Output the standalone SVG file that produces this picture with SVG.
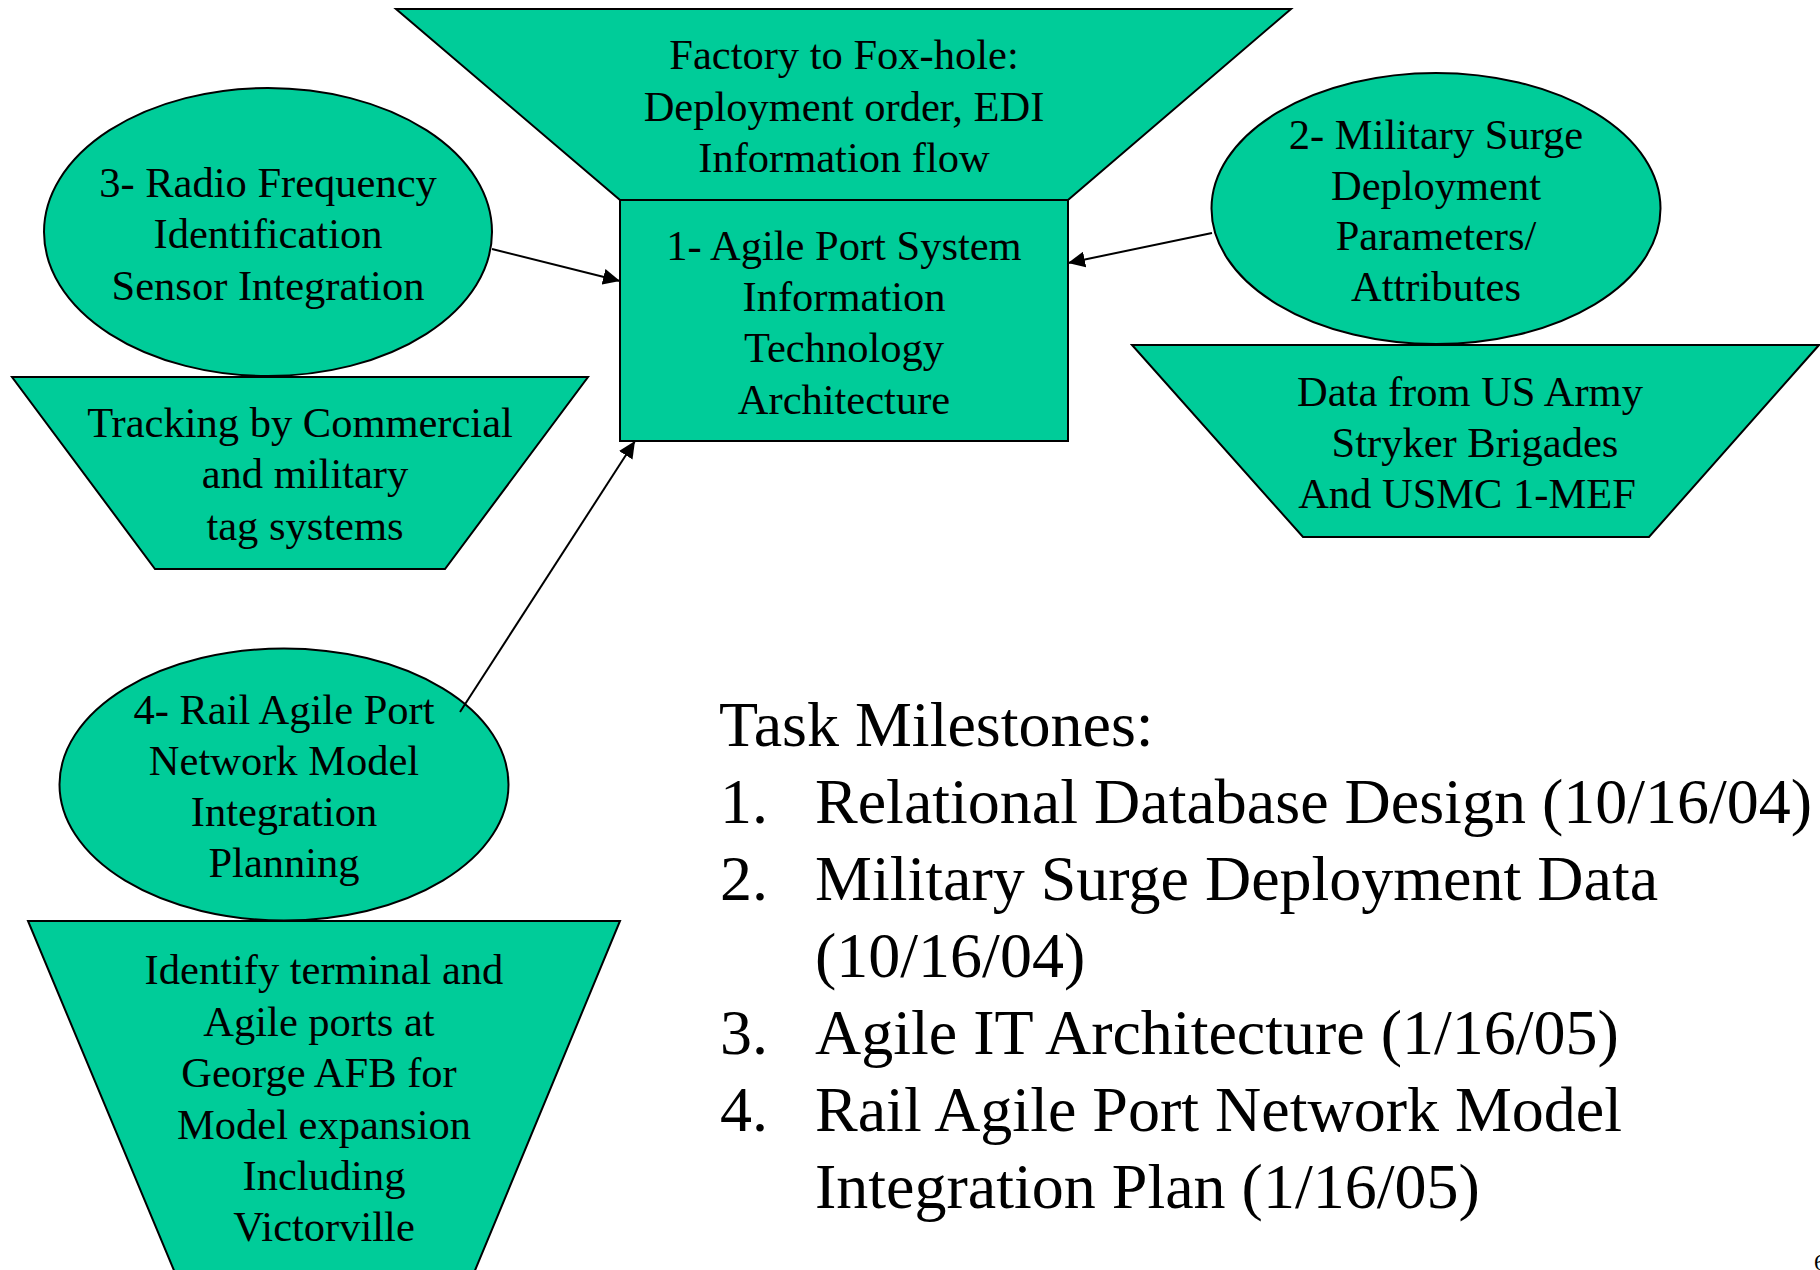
<svg xmlns="http://www.w3.org/2000/svg" width="1820" height="1270" viewBox="0 0 1820 1270">
<style>
.shape{fill:#00CC99;stroke:#000;stroke-width:2}
.t{font-family:"Liberation Serif","Times New Roman",serif;font-size:42.5px;fill:#000;text-anchor:middle}
.m{font-family:"Liberation Serif","Times New Roman",serif;font-size:64px;fill:#000}
.conn{stroke:#000;stroke-width:2;fill:none;marker-end:url(#ah)}
</style>
<defs>
<marker id="ah" markerUnits="userSpaceOnUse" markerWidth="18" markerHeight="16" refX="17" refY="8" orient="auto">
<path d="M0,0 L17,8 L0,16 Z" fill="#000"/>
</marker>
</defs>
<rect width="1820" height="1270" fill="#fff"/>
<g id="factory">
<polygon class="shape" points="396,9 1291,9 1068,200 620,200"/>
<text class="t" x="844" y="69">Factory to Fox-hole:</text>
<text class="t" x="844" y="121">Deployment order, EDI</text>
<text class="t" x="844" y="172">Information flow</text>
</g>
<g id="agile-port">
<rect class="shape" x="620" y="200" width="448" height="241"/>
<text class="t" x="844" y="260">1- Agile Port System</text>
<text class="t" x="844" y="311">Information</text>
<text class="t" x="844" y="362">Technology</text>
<text class="t" x="844" y="414">Architecture</text>
</g>
<g id="rfid">
<ellipse class="shape" cx="268" cy="232" rx="224" ry="144"/>
<text class="t" x="268" y="197">3- Radio Frequency</text>
<text class="t" x="268" y="248">Identification</text>
<text class="t" x="268" y="300">Sensor Integration</text>
</g>
<g id="tracking">
<polygon class="shape" points="12,377 588,377 445,569 155,569"/>
<text class="t" x="300" y="437">Tracking by Commercial</text>
<text class="t" x="305" y="488">and military</text>
<text class="t" x="305" y="540">tag systems</text>
</g>
<g id="military-surge">
<ellipse class="shape" cx="1436" cy="208.5" rx="224.5" ry="135.5"/>
<text class="t" x="1436" y="149">2- Military Surge</text>
<text class="t" x="1436" y="200">Deployment</text>
<text class="t" x="1436" y="250">Parameters/</text>
<text class="t" x="1436" y="301">Attributes</text>
</g>
<g id="army-data">
<polygon class="shape" points="1132,345 1819,345 1649,537 1303,537"/>
<text class="t" x="1470" y="406">Data from US Army</text>
<text class="t" x="1475" y="457">Stryker Brigades</text>
<text class="t" x="1467" y="508">And USMC 1-MEF</text>
</g>
<g id="rail">
<ellipse class="shape" cx="284" cy="784.5" rx="224.5" ry="136"/>
<text class="t" x="284" y="724">4- Rail Agile Port</text>
<text class="t" x="284" y="775">Network Model</text>
<text class="t" x="284" y="826">Integration</text>
<text class="t" x="284" y="877">Planning</text>
</g>
<g id="terminal">
<polygon class="shape" points="28,921 620,921 471,1280 178,1280"/>
<text class="t" x="324" y="984">Identify terminal and</text>
<text class="t" x="319" y="1036">Agile ports at</text>
<text class="t" x="319" y="1087">George AFB for</text>
<text class="t" x="324" y="1139">Model expansion</text>
<text class="t" x="324" y="1190">Including</text>
<text class="t" x="324" y="1241">Victorville</text>
</g>
<g id="connectors">
<line class="conn" x1="492" y1="249" x2="620" y2="281"/>
<line class="conn" x1="1212" y1="233" x2="1068" y2="263"/>
<line class="conn" x1="460" y1="712" x2="635" y2="441"/>
</g>
<g id="milestones">
<text class="m" x="719" y="746">Task Milestones:</text>
<text class="m" x="720" y="823">1.</text>
<text class="m" x="815" y="823">Relational Database Design (10/16/04)</text>
<text class="m" x="720" y="900">2.</text>
<text class="m" x="815" y="900">Military Surge Deployment Data</text>
<text class="m" x="815" y="977">(10/16/04)</text>
<text class="m" x="720" y="1054">3.</text>
<text class="m" x="815" y="1054">Agile IT Architecture (1/16/05)</text>
<text class="m" x="720" y="1131">4.</text>
<text class="m" x="815" y="1131">Rail Agile Port Network Model</text>
<text class="m" x="815" y="1208">Integration Plan (1/16/05)</text>
</g>
<text x="1814" y="1270" font-family="Liberation Serif, serif" font-size="24">6</text>
</svg>
